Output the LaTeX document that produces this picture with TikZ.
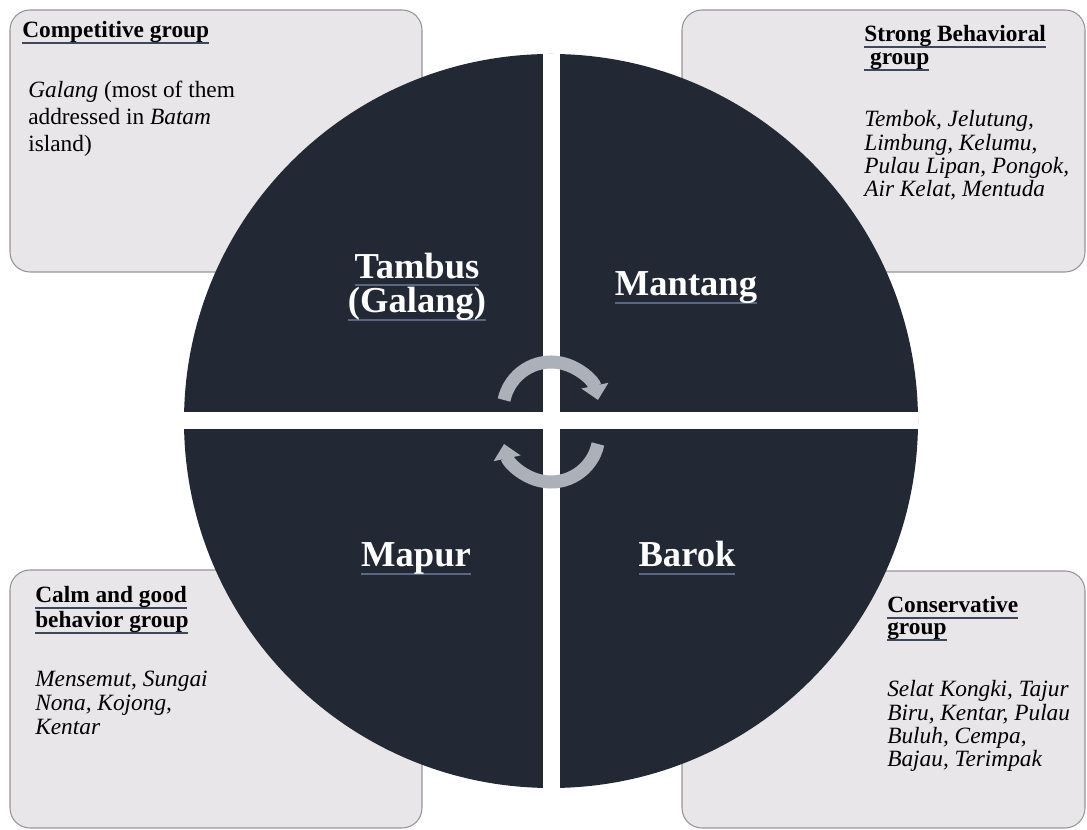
\documentclass[tikz,border=0pt]{standalone}
\usepackage{fontspec}
\setmainfont{Liberation Serif}
\usetikzlibrary{arrows.meta}
\definecolor{diskfill}{RGB}{34,40,52}
\definecolor{grpfill}{RGB}{232,230,232}
\definecolor{grpline}{RGB}{150,150,152}
\definecolor{headrule}{RGB}{62,72,92}
\definecolor{namerule}{RGB}{88,104,130}
\definecolor{cyclegray}{RGB}{172,176,184}
\newcommand{\headul}[1]{\setbox0\hbox{#1}\rlap{\textcolor{headrule}{\rule[-4.7pt]{\wd0}{1.9pt}}}\box0}
\newcommand{\nameul}[1]{\setbox0\hbox{#1}\rlap{\textcolor{namerule}{\rule[-6pt]{\wd0}{1.5pt}}}\box0}

\begin{document}
\begin{tikzpicture}[
  x=0.75pt, y=0.75pt,
  grp/.style={draw=grpline, fill=grpfill, line width=0.8pt, rounded corners=15pt},
  head/.style={anchor=base west, inner sep=0pt, align=left,
               font=\fontsize{17.5}{17.5}\selectfont\bfseries},
  body/.style={anchor=base west, inner sep=0pt, align=left,
               font=\fontsize{17.5}{17.5}\selectfont\itshape},
  qname/.style={anchor=base, inner sep=0pt, align=center, text=white,
                font=\fontsize{27.4}{26}\selectfont\bfseries},
  cyc/.style={draw=cyclegray, line width=9.75pt, -{Triangle[width=20pt,length=11pt]}}
]
\useasboundingbox (0,0) rectangle (1087,830);
\fill[white] (0,0) rectangle (1087,830);

% group boxes in the corners
\draw[grp] (10,558) rectangle (422,820);
\draw[grp] (682,558) rectangle (1085,820);
\draw[grp] (10,2) rectangle (422,260);
\draw[grp] (682,2) rectangle (1085,259);

% the disk, cut in four
\begin{scope}
  \clip (551,409) circle[radius=275.25pt];
  \fill[diskfill] (180,38) rectangle (922,780);
  \fill[white] (542.5,30) rectangle (559.5,790);
  \fill[white] (170,400.5) rectangle (930,417.5);
\end{scope}

% cycle arrows
\draw[cyc] ([shift={(168:36pt)}]551,420) arc[start angle=168, end angle=12, radius=36pt];
\draw[cyc] ([shift={(-12:36pt)}]551,396) arc[start angle=-12, end angle=-168, radius=36pt];

% quadrant names (base = last line)
\node[qname] (tambus) at (417,517) {\nameul{Tambus}\\ \nameul{(Galang)}};
\node[qname] (mantang) at (686,534) {\nameul{Mantang}};
\node[qname] (mapur) at (416,263) {\nameul{Mapur}};
\node[qname] (barok) at (687,263) {\nameul{Barok}};

% top left
\node[head] (comphead) at (22,792) {\headul{Competitive group}};
\node[body, font=\fontsize{17.5}{20.6}\selectfont] (compbody) at (28,678)
  {\textit{Galang} (most of them\\ addressed in \textit{Batam}\\ island)};
% top right
\node[head, font=\fontsize{17.5}{17.3}\selectfont\bfseries] (stronghead) at (864,765)
  {\headul{Strong Behavioral}\\ \headul{\ group}};
\node[body] (strongbody) at (864,633)
  {Tembok, Jelutung,\\ Limbung, Kelumu,\\ Pulau Lipan, Pongok,\\ Air Kelat, Mentuda};
% bottom left
\node[head, font=\fontsize{17.5}{18.75}\selectfont\bfseries] (calmhead) at (35,202)
  {\headul{Calm and good}\\ \headul{behavior group}};
\node[body, font=\fontsize{17.5}{18}\selectfont\itshape] (calmbody) at (35,95)
  {Mensemut, Sungai\\ Nona, Kojong,\\ Kentar};
% bottom right
\node[head, font=\fontsize{17.5}{16.5}\selectfont\bfseries] (conshead) at (887,195)
  {\headul{Conservative}\\ \headul{group}};
\node[body] (consbody) at (887,63)
  {Selat Kongki, Tajur\\ Biru, Kentar, Pulau\\ Buluh, Cempa,\\ Bajau, Terimpak};
\end{tikzpicture}
\end{document}
